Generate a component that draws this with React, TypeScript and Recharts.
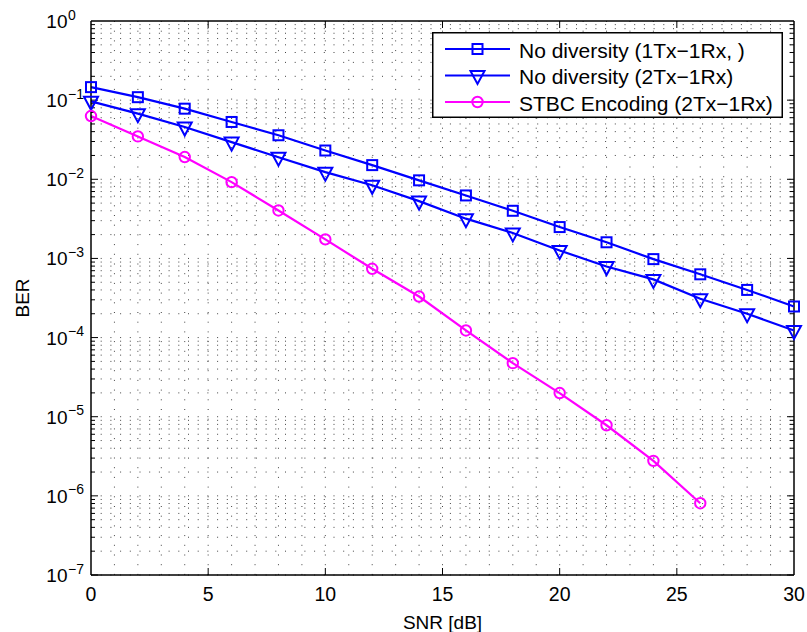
import { Legend, Line, LineChart, ReferenceLine, XAxis, YAxis } from "recharts";

const FONT = '"Liberation Sans", Arial, Helvetica, sans-serif';

// SNR points (dB)
const snrDb = [0, 2, 4, 6, 8, 10, 12, 14, 16, 18, 20, 22, 24, 26, 28, 30];

// BER
const berNoDiv1Tx = [
  0.146, 0.109, 0.078, 0.053, 0.036, 0.0231, 0.0151, 0.0097, 0.00625, 0.004, 0.00249, 0.0016, 0.00098,
  0.00063, 0.0004, 0.000247,
];
const berNoDiv2Tx = [
  0.0966, 0.0675, 0.0457, 0.0295, 0.019, 0.0123, 0.0084, 0.0053, 0.00318, 0.0021, 0.00126, 0.00079,
  0.000543, 0.00031, 0.0002, 0.000123,
];
const berStbc = [
  0.063, 0.0348, 0.0191, 0.0092, 0.00404, 0.00174, 0.00074, 0.00033, 0.000123, 4.75e-5, 1.99e-5, 7.8e-6,
  2.77e-6, 8.07e-7,
];

const xTicks = [0, 5, 10, 15, 20, 25, 30];
const yTicks = [1e-7, 1e-6, 1e-5, 1e-4, 1e-3, 1e-2, 1e-1, 1];
const xGrid = Array.from({ length: 29 }, (_, i) => i + 1);
const yGrid = yTicks.slice(0, -1).flatMap((d) => [1, 2, 3, 4, 5, 6, 7, 8, 9].map((m) => ({ v: m * d, major: m === 1 })));

const series = [
  { key: "s1", name: "No diversity (1Tx\u22121Rx, )", color: "#0000ff", marker: "square", values: berNoDiv1Tx },
  { key: "s2", name: "No diversity (2Tx\u22121Rx)", color: "#0000ff", marker: "tri", values: berNoDiv2Tx },
  { key: "s3", name: "STBC Encoding (2Tx\u22121Rx)", color: "#ff00ff", marker: "circle", values: berStbc },
];

const data = snrDb.map((snr, i) => {
  const row: Record<string, number | undefined> = { snr };
  series.forEach((s) => {
    row[s.key] = s.values[i];
  });
  return row;
});

const drawMarker = (kind: string, cx: number, cy: number, color: string) => {
  if (kind === "square")
    return <rect x={cx - 5} y={cy - 5} width={10} height={10} fill="none" stroke={color} strokeWidth={2} />;
  if (kind === "tri")
    return (
      <polygon
        points={`${cx - 7},${cy - 4.5} ${cx + 7},${cy - 4.5} ${cx},${cy + 8.5}`}
        fill="none"
        stroke={color}
        strokeWidth={2}
      />
    );
  return <circle cx={cx} cy={cy} r={5.2} fill="none" stroke={color} strokeWidth={2} />;
};

const makeDot = (kind: string, color: string) => (p: any) => {
  if (p.cx == null || p.cy == null || p.value == null) return <g key={p.key ?? p.index} />;
  return <g key={p.key ?? p.index}>{drawMarker(kind, p.cx, p.cy, color)}</g>;
};

const hGrid = (tick: number) => (p: any) => {
  const xl = Math.min(p.x1, p.x2);
  const xr = Math.max(p.x1, p.x2);
  const y = p.y1;
  return (
    <g>
      <line x1={xl} y1={y} x2={xr} y2={y} stroke="#444" strokeDasharray="1 8.7" />
      <line x1={xl} y1={y} x2={xl + tick} y2={y} stroke="#000" />
      <line x1={xr - tick} y1={y} x2={xr} y2={y} stroke="#000" />
    </g>
  );
};

const vGrid = (tick: number) => (p: any) => {
  const yt = Math.min(p.y1, p.y2);
  const yb = Math.max(p.y1, p.y2);
  const x = p.x1;
  return (
    <g>
      <line x1={x} y1={yt} x2={x} y2={yb} stroke="#444" strokeDasharray="1 8.7" />
      {tick > 0 && <line x1={x} y1={yt} x2={x} y2={yt + tick} stroke="#000" />}
      {tick > 0 && <line x1={x} y1={yb - tick} x2={x} y2={yb} stroke="#000" />}
    </g>
  );
};

const XTick = ({ x, y, payload }: any) => (
  <text x={x} y={y + 18.5} textAnchor="middle" dominantBaseline="central" fontSize={19.5} fontFamily={FONT} fill="#000">
    {payload.value}
  </text>
);

const YTick = ({ x, y, payload }: any) => {
  const e = Math.round(Math.log10(payload.value));
  return (
    <g fontFamily={FONT} fill="#000">
      <text x={x - 23.5} y={y + 0.5} textAnchor="end" dominantBaseline="central" fontSize={19}>
        10
      </text>
      <text x={x - 23} y={y - 6.5} textAnchor="start" dominantBaseline="central" fontSize={14}>
        {e < 0 ? `\u2212${-e}` : e}
      </text>
    </g>
  );
};

const renderLegend = () => (
  <svg width={351} height={86} style={{ display: "block" }}>
    <rect x={0.75} y={0.75} width={349.5} height={84.5} fill="#fff" stroke="#000" strokeWidth={1.5} />
    {series.map((s, i) => {
      const cy = 17 + i * 26.5;
      return (
        <g key={s.key}>
          <line x1={13} y1={cy} x2={78} y2={cy} stroke={s.color} strokeWidth={2.2} />
          {drawMarker(s.marker, 45.5, cy, s.color)}
          <text x={87} y={cy + 1} dominantBaseline="central" fontSize={21} fontFamily={FONT} fill="#000">
            {s.name}
          </text>
        </g>
      );
    })}
  </svg>
);

export default function App() {
  return (
    <div style={{ position: "absolute", left: 0, top: 0, width: 807, height: 632, background: "#fff", fontFamily: FONT }}>
      <LineChart width={807} height={632} data={data} margin={{ top: 21, right: 13, left: 31, bottom: 0 }}>
        <XAxis
          dataKey="snr"
          type="number"
          domain={[0, 30]}
          ticks={xTicks}
          tick={<XTick />}
          tickSize={0}
          tickMargin={0}
          tickLine={false}
          height={57}
          axisLine={{ stroke: "#000", strokeWidth: 1.5 }}
          label={{
            content: ({ viewBox }: any) => (
              <text
                x={viewBox.x + viewBox.width / 2}
                y={viewBox.y + 47}
                textAnchor="middle"
                dominantBaseline="central"
                fontSize={19}
                fontFamily={FONT}
                fill="#000"
              >
                SNR [dB]
              </text>
            ),
          }}
        />
        <YAxis
          scale="log"
          type="number"
          domain={[1e-7, 1]}
          allowDataOverflow
          ticks={yTicks}
          tick={<YTick />}
          tickSize={0}
          tickMargin={0}
          tickLine={false}
          width={60}
          axisLine={{ stroke: "#000", strokeWidth: 1.5 }}
          label={{
            content: ({ viewBox }: any) => {
              const cx = viewBox.x - 9;
              const cy = viewBox.y + viewBox.height / 2;
              return (
                <text
                  x={cx}
                  y={cy}
                  transform={`rotate(-90 ${cx} ${cy})`}
                  textAnchor="middle"
                  dominantBaseline="central"
                  fontSize={19}
                  fontFamily={FONT}
                  fill="#000"
                >
                  BER
                </text>
              );
            },
          }}
        />
        {yGrid.map((g) => (
          <ReferenceLine key={`h${g.v}`} y={g.v} shape={hGrid(g.major ? 7 : 4)} />
        ))}
        {xGrid.map((v) => (
          <ReferenceLine key={`v${v}`} x={v} shape={vGrid(v % 5 === 0 ? 7 : 0)} />
        ))}
        <ReferenceLine y={1} stroke="#000" strokeWidth={1.5} />
        <ReferenceLine x={30} stroke="#000" strokeWidth={1.5} />
        {series.map((s) => (
          <Line
            key={s.key}
            dataKey={s.key}
            name={s.name}
            stroke={s.color}
            strokeWidth={2.2}
            dot={makeDot(s.marker, s.color)}
            activeDot={false}
            isAnimationActive={false}
          />
        ))}
        <Legend
          layout="horizontal"
          verticalAlign="middle"
          align="center"
          wrapperStyle={{ position: "absolute", top: 32, left: 432, width: 351, height: 86 }}
          content={renderLegend}
        />
      </LineChart>
    </div>
  );
}
